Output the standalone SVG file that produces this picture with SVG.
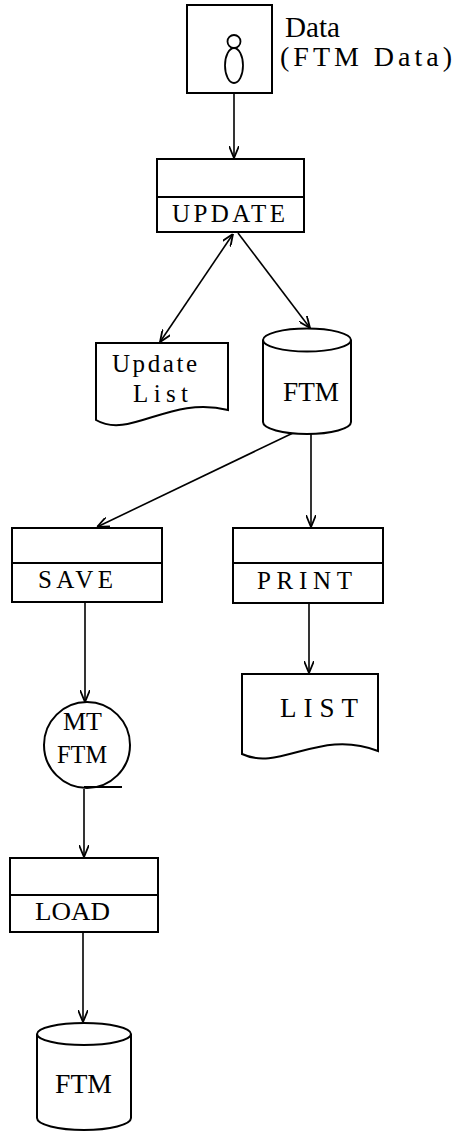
<svg xmlns="http://www.w3.org/2000/svg" width="454" height="1133" viewBox="0 0 454 1133">
<style>
.s{fill:#fff;stroke:#000;stroke-width:2}
.n{fill:none;stroke:#000;stroke-width:1.8}
.c{fill:none;stroke:#000;stroke-width:1.6}
</style>
<defs>
<marker id="ah" viewBox="0 0 12 10" refX="12" refY="5" markerWidth="12" markerHeight="10" markerUnits="userSpaceOnUse" orient="auto-start-reverse">
<path d="M0,0 L12,5 L0,10" fill="none" stroke="#000" stroke-width="1.8"/>
</marker>
</defs>
<rect width="454" height="1133" fill="#fff"/>
<g id="connectors">
<line class="c" x1="234" y1="93" x2="234" y2="158" marker-end="url(#ah)"/>
<line class="c" x1="233" y1="234" x2="160" y2="342" marker-start="url(#ah)" marker-end="url(#ah)"/>
<line class="c" x1="238" y1="233" x2="310" y2="328" marker-end="url(#ah)"/>
<line class="c" x1="293" y1="433" x2="97" y2="527" marker-end="url(#ah)"/>
<line class="c" x1="311" y1="434" x2="311" y2="527" marker-end="url(#ah)"/>
<line class="c" x1="309" y1="603" x2="309" y2="673" marker-end="url(#ah)"/>
<line class="c" x1="85" y1="602" x2="85" y2="702" marker-end="url(#ah)"/>
<line class="c" x1="84" y1="789" x2="84" y2="857" marker-end="url(#ah)"/>
<line class="c" x1="83" y1="932" x2="83" y2="1022" marker-end="url(#ah)"/>
</g>
<g font-family="'Liberation Serif', 'DejaVu Serif', serif" font-size="25" fill="#000">
<g id="data">
<rect class="s" x="187" y="5" width="85" height="88"/>
<circle class="n" cx="234" cy="41.5" r="6.5"/>
<ellipse class="n" cx="234" cy="65.5" rx="9" ry="17.5"/>
<text x="285" y="37" font-size="29" textLength="55" lengthAdjust="spacingAndGlyphs">Data</text>
<text x="280" y="66" font-size="28" textLength="172" lengthAdjust="spacing">(FTM Data)</text>
</g>
<g id="update">
<rect class="s" x="157" y="159" width="147" height="73"/>
<line class="n" x1="157" y1="197" x2="304" y2="197"/>
<text x="172" y="222" textLength="113" lengthAdjust="spacing">UPDATE</text>
</g>
<g id="update-list">
<path class="s" d="M96,343 H228 V410 C170,395 130,440 96,420 Z"/>
<text x="112" y="372" textLength="85" lengthAdjust="spacing">Update</text>
<text x="133" y="402" textLength="55" lengthAdjust="spacing">List</text>
</g>
<g id="ftm1">
<path class="s" d="M263,340 V422 A44,12 0 0 0 351,422 V340"/>
<ellipse class="s" cx="307" cy="340" rx="44" ry="11.5"/>
<text x="283" y="401" font-size="27" textLength="56" lengthAdjust="spacingAndGlyphs">FTM</text>
</g>
<g id="save">
<rect class="s" x="12" y="528" width="150" height="74"/>
<line class="n" x1="12" y1="563" x2="162" y2="563"/>
<text x="38" y="588" textLength="75" lengthAdjust="spacing">SAVE</text>
</g>
<g id="print">
<rect class="s" x="233" y="528" width="150" height="75"/>
<line class="n" x1="233" y1="563" x2="383" y2="563"/>
<text x="257" y="589" textLength="95" lengthAdjust="spacing">PRINT</text>
</g>
<g id="list">
<path class="s" d="M242,674 H378 V751 C320,728 280,772 242,754 Z"/>
<text x="280" y="717" font-size="27" textLength="78" lengthAdjust="spacing">LIST</text>
</g>
<g id="mt-ftm">
<circle class="s" cx="87" cy="745" r="43"/>
<line class="n" x1="84" y1="787" x2="122" y2="787"/>
<text x="63" y="730" textLength="39" lengthAdjust="spacingAndGlyphs">MT</text>
<text x="57" y="763" textLength="50" lengthAdjust="spacingAndGlyphs">FTM</text>
</g>
<g id="load">
<rect class="s" x="10" y="858" width="148" height="74"/>
<line class="n" x1="10" y1="895" x2="158" y2="895"/>
<text x="35" y="920" textLength="75" lengthAdjust="spacingAndGlyphs">LOAD</text>
</g>
<g id="ftm2">
<path class="s" d="M37,1034 V1118 A47,12 0 0 0 131,1118 V1034"/>
<ellipse class="s" cx="84" cy="1034" rx="47" ry="11"/>
<text x="55" y="1093" font-size="27" textLength="57" lengthAdjust="spacingAndGlyphs">FTM</text>
</g>
</g>
</svg>
